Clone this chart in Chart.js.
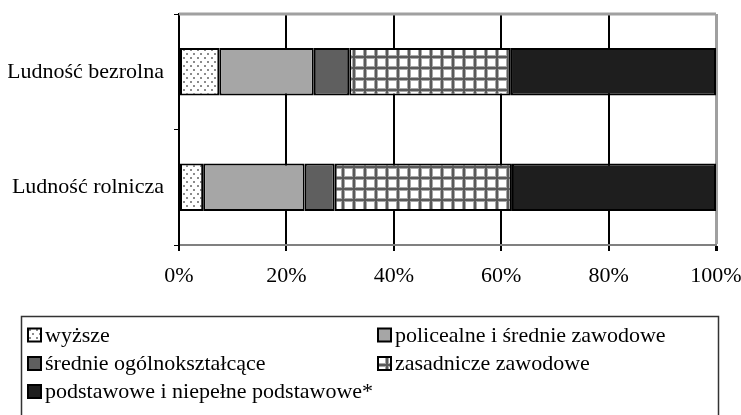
<!DOCTYPE html>
<html>
<head>
<meta charset="utf-8">
<script src="https://cdn.jsdelivr.net/npm/chart.js@4"></script>
<style>
  body { margin: 0; background: #fff; }
  #wrap { width: 741px; height: 415px; }
</style>
</head>
<body>
<div id="wrap"><canvas id="eduChart" width="741" height="415"></canvas></div>
<script>
// data (percent of population)
const categories = ['Ludność bezrolna', 'Ludność rolnicza'];
const seriesNames = [
  'wyższe',
  'policealne i średnie zawodowe',
  'średnie ogólnokształcące',
  'zasadnicze zawodowe',
  'podstawowe i niepełne podstawowe*'
];
const wyzsze = [7.5, 4.5];
const policealne = [17.6, 18.9];
const srednieOgolne = [6.6, 5.6];
const zasadnicze = [30.1, 33.0];
const podstawowe = [38.2, 38.0];
const xTicks = [0, 20, 40, 60, 80, 100];

// fills
function dotPattern() {
  const c = document.createElement('canvas');
  c.width = 7; c.height = 8;
  const g = c.getContext('2d');
  g.fillStyle = '#fff'; g.fillRect(0, 0, 7, 8);
  g.fillStyle = '#8c8c8c';
  g.fillRect(1, 1, 2, 2);
  g.fillRect(4, 5, 2, 2);
  return g.createPattern(c, 'repeat');
}
function gridPattern() {
  const c = document.createElement('canvas');
  c.width = 11; c.height = 11;
  const g = c.getContext('2d');
  g.fillStyle = '#fff'; g.fillRect(0, 0, 11, 11);
  g.fillStyle = '#a8a8a8';
  g.fillRect(0, 0, 4, 11); g.fillRect(0, 0, 11, 4);
  g.fillStyle = '#5a5a5a';
  g.fillRect(1, 0, 2, 11); g.fillRect(0, 1, 11, 2);
  return g.createPattern(c, 'repeat');
}

const fills = [dotPattern(), '#a6a6a6', '#5f5f5f', gridPattern(), '#1e1e1e'];
const values = [wyzsze, policealne, srednieOgolne, zasadnicze, podstawowe];

Chart.defaults.font.family = '"Liberation Serif", "Times New Roman", serif';
Chart.defaults.font.size = 22;
Chart.defaults.color = '#000';

// legend box drawn under the plot, two columns
const boxLegend = {
  id: 'boxLegend',
  afterDraw(chart) {
    const ctx = chart.ctx;
    ctx.save();
    ctx.strokeStyle = '#333';
    ctx.lineWidth = 1.5;
    ctx.strokeRect(21.5, 316.5, 697, 110);
    const cols = [28, 378];
    const rows = [335, 363.5, 391.5];
    ctx.font = '22px "Liberation Serif", serif';
    ctx.textBaseline = 'middle';
    chart.data.datasets.forEach((ds, i) => {
      const x = cols[i % 2];
      const y = rows[Math.floor(i / 2)];
      ctx.fillStyle = ds.backgroundColor;
      ctx.fillRect(x, y - 6.5, 13, 13);
      ctx.strokeStyle = '#000';
      ctx.lineWidth = 2;
      ctx.strokeRect(x, y - 6.5, 13, 13);
      ctx.fillStyle = '#000';
      ctx.fillText(ds.label, x + 17, y + 1);
    });
    ctx.restore();
  }
};

// gray top frame line
const topFrame = {
  id: 'topFrame',
  beforeDatasetsDraw(chart) {
    const { ctx, chartArea } = chart;
    ctx.save();
    ctx.strokeStyle = '#a0a0a0';
    ctx.lineWidth = 3;
    ctx.beginPath();
    ctx.moveTo(chartArea.left, chartArea.top);
    ctx.lineTo(chartArea.right, chartArea.top);
    ctx.stroke();
    ctx.restore();
  }
};

new Chart(document.getElementById('eduChart'), {
  type: 'bar',
  data: {
    labels: categories,
    datasets: seriesNames.map((name, i) => ({
      label: name,
      data: values[i],
      backgroundColor: fills[i],
      borderColor: '#000',
      borderWidth: 2,
      borderSkipped: false,
      categoryPercentage: 1,
      barPercentage: 0.41
    }))
  },
  options: {
    indexAxis: 'y',
    responsive: false,
    animation: false,
    layout: { padding: { left: 8, right: 25, top: 14, bottom: 128 } },
    plugins: { legend: { display: false }, tooltip: { enabled: false } },
    scales: {
      x: {
        stacked: true,
        min: 0,
        max: 100,
        afterBuildTicks(scale) { scale.ticks = xTicks.map(v => ({ value: v })); },
        afterFit(scale) {
          scale.height = 42;
          scale.paddingLeft = 0;
          scale.paddingRight = 0;
        },
        ticks: { padding: 12, callback: v => v + '%' },
        grid: {
          color: c => (c.tick && c.tick.value === 100 ? '#a0a0a0' : '#000'),
          lineWidth: c => (c.tick && c.tick.value === 100 ? 3 : 2),
          tickColor: '#000',
          tickLength: 6
        },
        border: { color: '#808080', width: 2 }
      },
      y: {
        stacked: true,
        afterFit(scale) {
          scale.width = 171;
          scale.paddingTop = 0;
          scale.paddingBottom = 0;
        },
        ticks: { padding: 10 },
        grid: {
          drawOnChartArea: false,
          offset: true,
          color: '#000',
          tickLength: 5
        },
        border: { color: '#000', width: 2 }
      }
    }
  },
  plugins: [topFrame, boxLegend]
});
</script>
</body>
</html>
